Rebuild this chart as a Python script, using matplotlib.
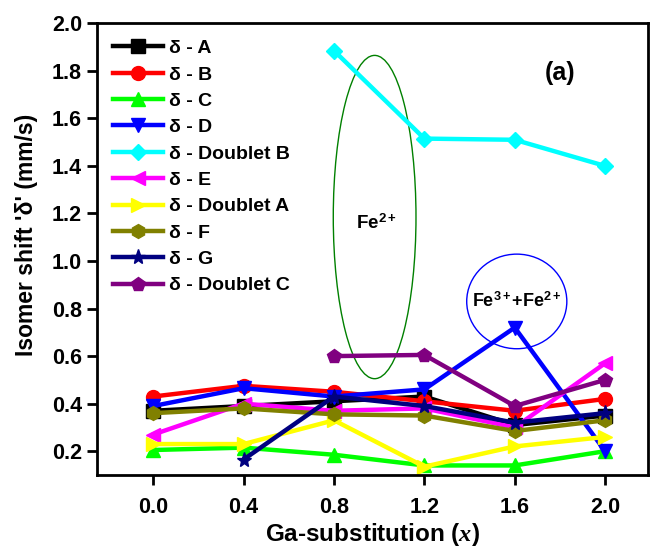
import matplotlib
matplotlib.use("Agg")
import matplotlib.pyplot as plt
from matplotlib.patches import Ellipse

plt.rcParams['font.family'] = ['Liberation Sans', 'DejaVu Sans']
plt.rcParams['font.weight'] = 'bold'
plt.rcParams['mathtext.fontset'] = 'custom'
plt.rcParams['mathtext.rm'] = 'Liberation Sans:bold'
plt.rcParams['mathtext.bf'] = 'Liberation Sans:bold'
plt.rcParams['mathtext.it'] = 'Liberation Serif:italic'

x = [0.0, 0.4, 0.8, 1.2, 1.6, 2.0]
x_late = [0.8, 1.2, 1.6, 2.0]
x_g = [0.4, 0.8, 1.2, 1.6, 2.0]

delta_a = [0.37, 0.39, 0.41, 0.43, 0.31, 0.35]
delta_b = [0.43, 0.475, 0.45, 0.41, 0.37, 0.42]
delta_c = [0.205, 0.215, 0.185, 0.14, 0.14, 0.20]
delta_d = [0.39, 0.465, 0.43, 0.46, 0.72, 0.20]
delta_doublet_b = [1.885, 1.515, 1.51, 1.40]
delta_e = [0.27, 0.40, 0.37, 0.38, 0.30, 0.57]
delta_doublet_a = [0.23, 0.23, 0.33, 0.135, 0.22, 0.26]
delta_f = [0.36, 0.38, 0.355, 0.35, 0.285, 0.33]
delta_g = [0.165, 0.43, 0.39, 0.32, 0.36]
delta_doublet_c = [0.60, 0.605, 0.39, 0.50]

series = [
    ("δ - A", x, delta_a, "black", "s"),
    ("δ - B", x, delta_b, "red", "o"),
    ("δ - C", x, delta_c, "#00ff00", "^"),
    ("δ - D", x, delta_d, "blue", "v"),
    ("δ - Doublet B", x_late, delta_doublet_b, "cyan", "D"),
    ("δ - E", x, delta_e, "magenta", "<"),
    ("δ - Doublet A", x, delta_doublet_a, "yellow", ">"),
    ("δ - F", x, delta_f, "#808000", "h"),
    ("δ - G", x_g, delta_g, "#000080", "*"),
    ("δ - Doublet C", x_late, delta_doublet_c, "#800080", "p"),
]

fig = plt.figure(figsize=(6.51, 5.51), dpi=100)
ax = fig.add_axes([0.1485, 0.138, 0.847, 0.8197])

for label, xs, ys, col, mk in series:
    ms = 11 if mk == "*" else (8 if mk == "D" else 10)
    ax.plot(xs, ys, color=col, marker=mk, markersize=ms, lw=3.2,
            markeredgecolor=col, label=label)

# annotations
ax.add_patch(Ellipse((0.98, 1.185), 0.366, 1.36, fill=False,
                     edgecolor='green', lw=1))
ax.text(0.985, 1.16, r"Fe$^{\mathbf{2+}}$", ha='center', va='center',
        fontsize=13.5, fontweight='bold')
ax.add_patch(Ellipse((1.609, 0.83), 0.443, 0.398, fill=False,
                     edgecolor='blue', lw=1))
ax.text(1.609, 0.83, r"Fe$^{\mathbf{3+}}$+Fe$^{\mathbf{2+}}$", ha='center',
        va='center', fontsize=13, fontweight='bold')
ax.text(1.80, 1.79, "(a)", ha='center', va='center', fontsize=18,
        fontweight='bold')

ax.set_xlim(-0.25, 2.19)
ax.set_ylim(0.1, 2.0)
ax.set_xticks(x)
ax.set_xticklabels(["0.0", "0.4", "0.8", "1.2", "1.6", "2.0"])
ax.set_yticks([0.2, 0.4, 0.6, 0.8, 1.0, 1.2, 1.4, 1.6, 1.8, 2.0])
ax.tick_params(direction='out', length=7, width=2, labelsize=15.5)
ax.tick_params(axis='x', pad=9)
ax.tick_params(axis='y', pad=3.5)
for lab in ax.get_xticklabels() + ax.get_yticklabels():
    lab.set_fontweight('bold')
for sp in ax.spines.values():
    sp.set_linewidth(2)

ax.set_xlabel(r"Ga-substitution ($x$)", fontsize=17.5, fontweight='bold')
ax.set_ylabel("Isomer shift 'δ' (mm/s)", fontsize=16.5, fontweight='bold')
ax.xaxis.set_label_coords(0.5, -0.103)
ax.yaxis.set_label_coords(-0.128, 0.531)
ax.yaxis.label.set_va('center')

ax.legend(loc='upper left', bbox_to_anchor=(0.029, 0.964), frameon=False,
          borderpad=0, borderaxespad=0, handlelength=2.6, handletextpad=0.3,
          labelspacing=0.45, prop={'size': 14, 'weight': 'bold'})

fig.savefig("out.png", dpi=100)
